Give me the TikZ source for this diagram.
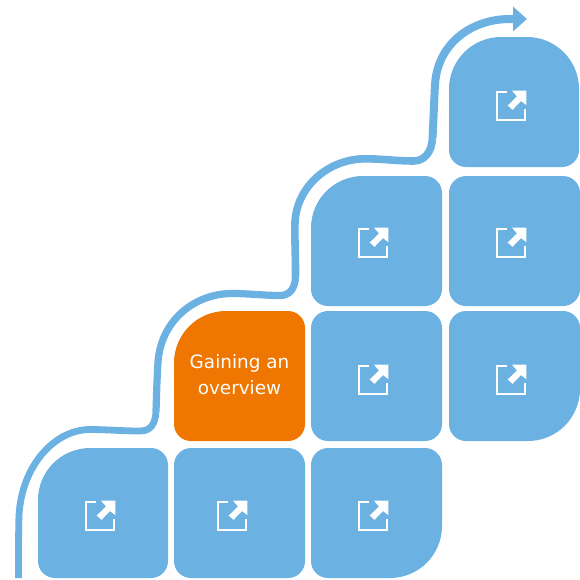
\documentclass[tikz,border=0pt]{standalone}
\usepackage{fontspec}
\setmainfont{DejaVu Sans}
\usetikzlibrary{arrows.meta}
\definecolor{tileblue}{HTML}{6BB1E2}
\definecolor{tileorange}{HTML}{EF7600}
\tikzset{
  x=1pt,y=1pt,
  tilefill/.style={fill=tileblue},
  activefill/.style={fill=tileorange},
  iconline/.style={draw=white,line width=2.1pt,line cap=butt},
  iconfill/.style={fill=white},
  route/.style={draw=tileblue,line join=round},
  tiletext/.style={text=white,font=\fontsize{18.4}{26}\selectfont,align=center,inner sep=0pt},
}
% #1 style, #2 left, #3 top (image px), #4 width, #5 height, #6-#9 radii TL TR BR BL
\newcommand{\tileshape}[9]{%
  \fill[#1] (#2+#6,-#3) -- (#2+#4-#7,-#3)
    arc[start angle=90,end angle=0,radius=#7pt]
    -- (#2+#4,-#3-#5+#8)
    arc[start angle=0,end angle=-90,radius=#8pt]
    -- (#2+#9,-#3-#5)
    arc[start angle=-90,end angle=-180,radius=#9pt]
    -- (#2,-#3-#6)
    arc[start angle=180,end angle=90,radius=#6pt]
    -- cycle;}
% icon centred on image px (#1,#2)
\newcommand{\linkicon}[2]{%
  \begin{scope}[shift={(#1,-#2)}]
    \draw[iconline] (-4,14.4) -- (-14.4,14.4) -- (-14.4,-14.4) -- (14.4,-14.4) -- (14.4,-2.5);
    \fill[iconfill] (15.4,15.4) -- (1,15.4) -- (6,9.5) -- (-3.3,0.5) -- (1.5,-3.8) -- (10,5) -- (15.4,0.8) -- cycle;
  \end{scope}}
\begin{document}
\begin{tikzpicture}
\useasboundingbox (0,0) rectangle (580,-579);
\tileshape{tilefill}{449}{37}{130}{130}{52}{52}{17}{17}
\tileshape{tilefill}{311}{176}{131}{130}{52}{17}{17}{17}
\tileshape{tilefill}{449}{176}{131}{130}{17}{17}{17}{17}
\tileshape{activefill}{174}{311}{131}{130}{52}{17}{17}{17}
\tileshape{tilefill}{311}{311}{131}{130}{17}{17}{17}{17}
\tileshape{tilefill}{449}{311}{131}{130}{17}{17}{52}{17}
\tileshape{tilefill}{38}{448}{130}{130}{52}{17}{17}{17}
\tileshape{tilefill}{174}{448}{131}{130}{17}{17}{17}{17}
\tileshape{tilefill}{311}{448}{131}{130}{17}{17}{52}{17}
\linkicon{511}{106}
\linkicon{373}{243}
\linkicon{511}{243}
\linkicon{373}{380}
\linkicon{511}{380}
\linkicon{100}{516}
\linkicon{232}{516}
\linkicon{373}{516}
\node[tiletext] (overview) at (239.5,-375) {Gaining an\\overview};
\coordinate (start) at (18.5,-578);
\coordinate (bendA) at (156,-412);
\coordinate (bendB) at (295.5,-277);
\coordinate (bendC) at (432.5,-138);
\coordinate (tip) at (527,-19);
\draw[route,line width=6.8pt] (start)
  .. controls (18.5,-550) and (18.5,-530) .. (19,-515)
  .. controls (22,-465) and (55,-429.5) .. (90,-429.5)
  .. controls (107,-429.5) and (122,-431) .. (140,-431)
  .. controls (150,-431) and (155,-425) .. (bendA);
\draw[route,line width=7.2pt] (bendA)
  .. controls (156.5,-395) and (157,-378) .. (158,-362)
  .. controls (161,-320) and (195,-293.5) .. (232,-293.5)
  .. controls (248,-293.5) and (265,-295.5) .. (280,-295.5)
  .. controls (290,-295.5) and (295,-288) .. (bendB);
\draw[route,line width=7.6pt] (bendB)
  .. controls (295.7,-258) and (294.5,-240) .. (295,-222)
  .. controls (297,-185) and (330,-158.8) .. (365,-158.8)
  .. controls (382,-158.8) and (398,-161) .. (413,-161)
  .. controls (425,-161) and (431.5,-152) .. (bendC);
\draw[route,line width=8pt,-{Triangle[length=14pt,width=24pt]}] (bendC)
  .. controls (433.5,-120) and (434,-103) .. (435,-85)
  .. controls (437,-45) and (470,-19) .. (510,-19)
  -- (tip);
\end{tikzpicture}
\end{document}
